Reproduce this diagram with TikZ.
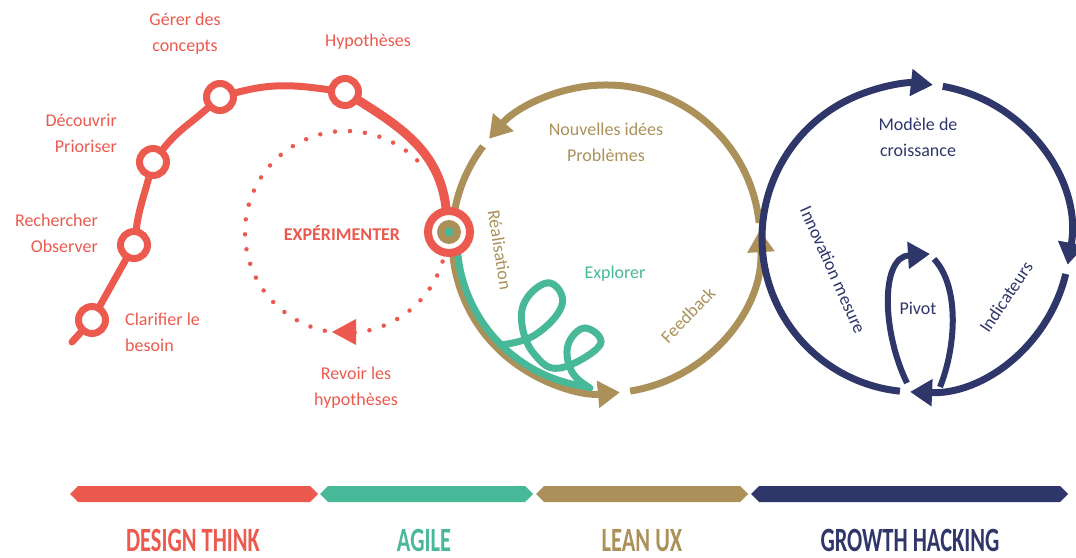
\documentclass[tikz,border=0pt]{standalone}
\usepackage{fontspec}
\setmainfont{Carlito}
\newfontfamily\bandfont[FakeStretch=0.66]{Carlito}
\usetikzlibrary{arrows.meta,positioning}
\definecolor{dtred}{HTML}{EC5A4F}
\definecolor{agteal}{HTML}{47B898}
\definecolor{lxgold}{HTML}{AB9159}
\definecolor{ghnavy}{HTML}{2F3669}

\begin{document}
\begin{tikzpicture}[x=1pt,y=1pt,
	lbl/.style={font=\fontsize{18}{26}\selectfont, align=center, inner sep=0},
	bandlbl/.style={font=\bandfont\bfseries\fontsize{34}{34}\selectfont, inner sep=0, anchor=base},
	station/.style={circle, draw=dtred, line width=7, fill=white, minimum size=27, inner sep=0},
	redline/.style={dtred, line width=7, line cap=round},
	goldline/.style={lxgold, line width=7},
	navyline/.style={ghnavy, line width=7},
	tealline/.style={agteal, line width=7, line cap=round},
	tip/.style={-{Triangle[length=22pt,width=26pt]}}]
	\newcommand\Band[3]{[fill=#3] (#1,63) -- (#1+8,71) -- (#2-8,71) -- (#2,63) -- (#2-8,55) -- (#1+8,55) -- cycle}
	\useasboundingbox (0,0) rectangle (1076,557);

	\coordinate (G) at (606,318);
	\coordinate (N) at (916,319);
	\coordinate (D) at (346,325);
	\coordinate (tail) at (72,215);

	% lean ux loop
	\draw[goldline, tip] (G) ++(-81:154) arc[start angle=-81, end angle=3.3, radius=154];
	\draw[goldline, tip] (G) ++(6:154) arc[start angle=6, end angle=139.4, radius=154];
	\draw[goldline, tip] (G) ++(143:154) arc[start angle=143, end angle=275.2, radius=154];

	% agile
	\draw[tealline] (G) ++(186:149) arc[start angle=186, end angle=262, radius=149];
	\draw[tealline] plot[smooth, tension=0.7] coordinates {(500,212) (535,222) (562,252) (550,274) (527,259) (522,232) (535,202) (560,189) (600,212) (585,229) (568,212) (572,185) (590,169)};

	% growth hacking loop
	\draw[navyline, tip] (N) ++(-96:154) arc[start angle=-96, end angle=-276.3, radius=154];
	\draw[navyline, tip] (N) ++(80:154) arc[start angle=80, end angle=-10, radius=154];
	\draw[navyline, tip] (N) ++(-13.5:154) arc[start angle=-13.5, end angle=-92.2, radius=154];
	\draw[navyline, line width=6, tip] (907,174) .. controls (882,225) and (880,300) .. (930,303);
	\draw[navyline, line width=6] (934,298) .. controls (960,270) and (956,210) .. (940,170);

	% design thinking
	\draw[dtred, line width=4.5, line cap=round, dash pattern=on 0pt off 15pt] (D) ++(-17:101) arc[start angle=-17, end angle=-317, radius=101];
	\fill[dtred] (332,225) -- (356,238) -- (356,212) -- cycle;

	\node[station] (clar) at (92,237) {};
	\node[station] (obs) at (134,312) {};
	\node[station] (prio) at (153,395) {};
	\node[station] (conc) at (220,460) {};
	\node[station] (hyp) at (345,465) {};
	\node[circle, draw=dtred, line width=8, fill=white, minimum size=42, inner sep=0] (expt) at (449,325) {};
	\fill[lxgold] (expt) circle (12);
	\fill[agteal] (expt) circle (4.5);

	\draw[redline] (tail) -- (clar);
	\draw[redline] (clar) -- (obs);
	\draw[redline] (obs) to[out=82, in=-105] (prio);
	\draw[redline] (prio) to[out=52, in=-138] (conc);
	\draw[redline] (conc) to[out=15, in=172] (hyp);
	\draw[redline, line width=9] (hyp) to[out=-32, in=97] (expt);

	% labels
	\node[lbl, text=dtred] (lhyp) at (368,515) {Hypothèses};
	\node[lbl, text=dtred] (lconc) at (185,523) {Gérer des\\concepts};
	\node[lbl, text=dtred, anchor=east, align=right] (lprio) at (117,424) {Découvrir\\Prioriser};
	\node[lbl, text=dtred, anchor=east, align=right] (lobs) at (98,324) {Rechercher\\Observer};
	\node[lbl, text=dtred, anchor=west, align=left] (lclar) at (125,225) {Clarifier le\\besoin};
	\node[lbl, text=dtred, font=\bfseries\fontsize{18}{26}\selectfont] (lexp) at (342,324) {EXPÉRIMENTER};
	\node[lbl, text=dtred] (lrev) at (356,169) {Revoir les\\hypothèses};

	\node[lbl, text=lxgold] (lidee) at (606,415) {Nouvelles idées\\Problèmes};
	\node[lbl, text=lxgold, rotate=-81] (lreal) at (500,307) {Réalisation};
	\node[lbl, text=agteal] (lexpl) at (615,283) {Explorer};
	\node[lbl, text=lxgold, rotate=46] (lfeed) at (688,242) {Feedback};

	\node[lbl, text=ghnavy] (lmod) at (918,420) {Modèle de\\croissance};
	\node[lbl, text=ghnavy, rotate=-66] (linno) at (833,287) {Innovation mesure};
	\node[lbl, text=ghnavy] (lpiv) at (918,249) {Pivot};
	\node[lbl, text=ghnavy, rotate=56] (lind) at (1006,260) {Indicateurs};

	% bands
	\fill \Band{70}{318}{dtred};
	\fill \Band{320}{533}{agteal};
	\fill \Band{536}{748}{lxgold};
	\fill \Band{751}{1068}{ghnavy};
	\node[bandlbl, text=dtred] (bdt) at (193,6) {DESIGN THINK};
	\node[bandlbl, text=agteal] (bag) at (424,6) {AGILE};
	\node[bandlbl, text=lxgold] (blx) at (642,6) {LEAN UX};
	\node[bandlbl, text=ghnavy] (bgh) at (910,6) {GROWTH HACKING};
\end{tikzpicture}
\end{document}
